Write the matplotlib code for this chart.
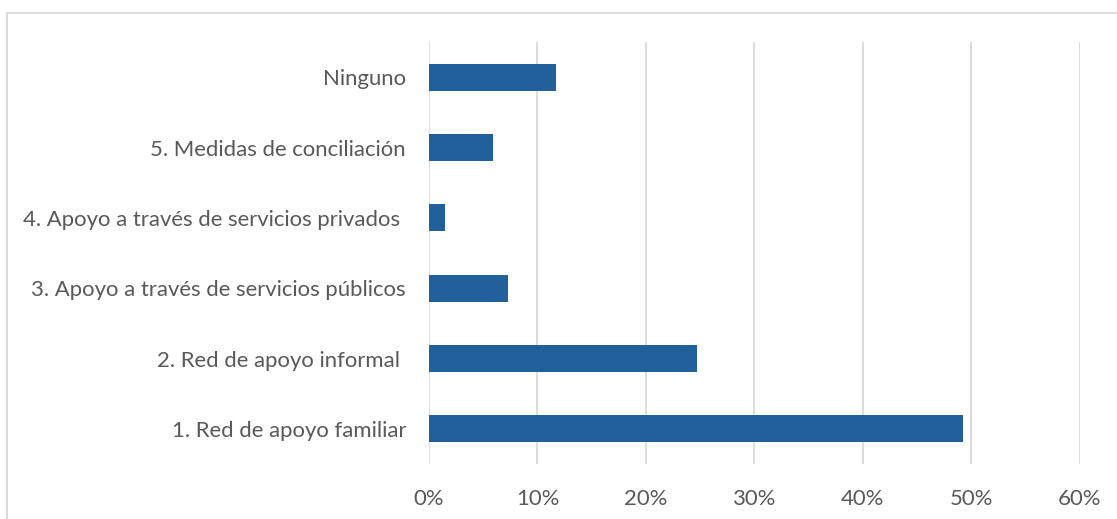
import matplotlib
matplotlib.use("Agg")
import matplotlib.pyplot as plt
from matplotlib.patches import Rectangle
from matplotlib.ticker import PercentFormatter

categories = [
    "1. Red de apoyo familiar",
    "2. Red de apoyo informal ",
    "3. Apoyo a través de servicios públicos",
    "4. Apoyo a través de servicios privados ",
    "5. Medidas de conciliación",
    "Ninguno",
]
values = [49.3, 24.7, 7.3, 1.5, 5.9, 11.7]
xticks = [0, 10, 20, 30, 40, 50, 60]

W, H = 1117, 519
fig = plt.figure(figsize=(W / 100, H / 100), dpi=100)
fig.patch.set_facecolor("white")
ax = fig.add_axes([429 / W, 1 - 464 / H, (1079.5 - 429) / W, (464 - 42) / H])

ax.barh(range(len(categories)), values, height=0.38, color="#21609B", zorder=3)
ax.set_ylim(-0.5, len(categories) - 0.5)
ax.set_xlim(0, 60)
ax.set_xticks(xticks)
ax.xaxis.set_major_formatter(PercentFormatter(decimals=0))
ax.set_yticks(range(len(categories)))
ax.set_yticklabels(categories)

font = "Lato"
for lab in ax.get_yticklabels() + ax.get_xticklabels():
    lab.set_fontfamily(font)
    lab.set_fontsize(15.9)
    lab.set_color("#595959")

ax.tick_params(axis="y", length=0, pad=16.5)
ax.tick_params(axis="x", length=0, pad=18)
ax.grid(axis="x", color="#D9D9D9", linewidth=1.3, zorder=0)
for s in ax.spines.values():
    s.set_visible(False)

fig.add_artist(Rectangle((6.5 / W, -0.01), 1.02, 1 - 12.5 / H + 0.01,
                         transform=fig.transFigure, fill=False,
                         edgecolor="#D9D9D9", linewidth=1.3))

fig.savefig("out.png", dpi=100)
